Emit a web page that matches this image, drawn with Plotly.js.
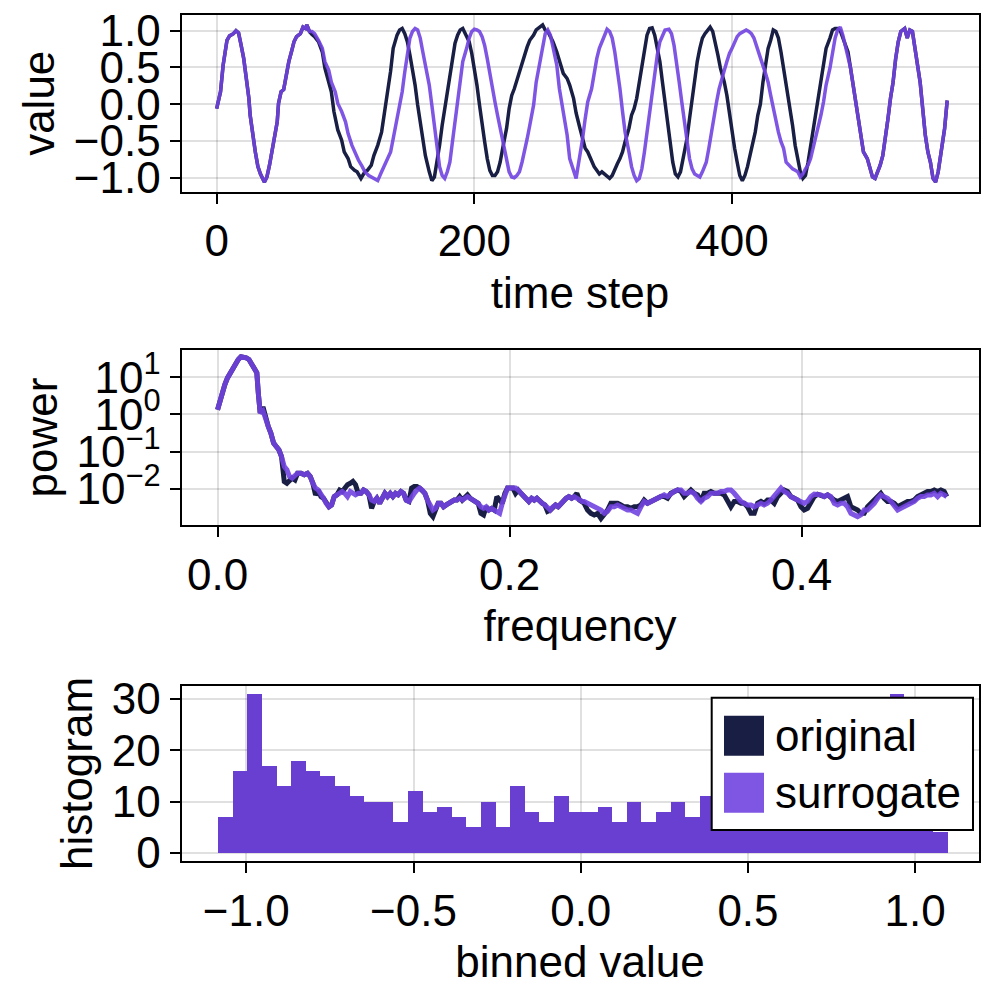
<!DOCTYPE html>
<html><head><meta charset="utf-8">
<script src="https://cdn.plot.ly/plotly-3.0.1.min.js"></script>
<style>html,body{margin:0;padding:0;background:#fff;} #chart{width:1000px;height:1000px;}</style>
</head><body><div id="chart"></div>
<script>
// ---------- time series (shared start / end segments, individual middles) ----------
const timeStart = [0,3,5,8,10,13,15,17,19,21,23,25,26,28,30,32,34,37,39,41,43,45,47,48,50,52,54,56,58,60,62,65,67,69,70,72];
const valueStart = [-0.06,0.17,0.53,0.87,0.93,0.96,1.0,0.97,0.8,0.62,0.35,0.08,-0.15,-0.42,-0.65,-0.85,-0.95,-1.06,-0.99,-0.83,-0.65,-0.47,-0.24,0.01,0.17,0.2,0.4,0.58,0.71,0.85,0.92,0.96,1.05,1.03,1.08,0.99];

const timeOrigMid = [74,76,79,82,84,86,89,91,94,97,99,102,104,107,109,112,115,117,120,122,125,128,130,133,135,137,140,142,144,146,148,150,152,154,156,158,160,162,165,167,169,171,173,175,177,179,181,183,185,187,189,191,193,196,198,200,202,204,206,208,210,212,214,216,218,220,222,225,227,229,231,233,235,237,239,241,243,246,248,251,253,255,257,259,261,264,266,269,272,274,277,279,282,284,286,288,291,293,295,297,299,301,303,305,307,309,311,313,315,317,320,322,324,326,328,330,332,334,336,338,340,342,344,346,348,350,352,354,356,358,360,362,365,367,369,371,373,375,377,379,381,383,385,387,389,391,394,396,398,400,402,404,406,408,410,412,414,416,418,420,422,424,426,428,430,432,434,436,438,440,442,445,447,449,451,453,455,457,459,461,463,465,467,469,471,473,476,478,480,482,484,486,488,490,492];
const valueOrigMid = [0.95,0.92,0.85,0.71,0.49,0.37,0.17,-0.1,-0.35,-0.49,
 -0.65,-0.74,-0.85,-0.9,-0.92,-1.01,-0.92,-0.9,-0.83,-0.7,
 -0.56,-0.38,-0.15,0.17,0.45,0.76,0.94,1.01,1.03,0.96,
 0.85,0.67,0.49,0.26,-0.01,-0.24,-0.47,-0.7,-0.92,-1.04,
 -0.99,-0.79,-0.56,-0.29,-0.06,0.17,0.4,0.62,0.83,0.94,
 1.01,1.03,0.96,0.85,0.69,0.49,0.26,-0.01,-0.29,-0.51,
 -0.74,-0.9,-0.97,-0.97,-0.92,-0.79,-0.6,-0.33,-0.06,0.12,
 0.21,0.33,0.46,0.58,0.69,0.78,0.87,0.94,1.01,1.05,
 1.08,1.01,0.99,0.92,0.85,0.71,0.58,0.42,0.35,0.26,
 0.08,-0.12,-0.33,-0.47,-0.6,-0.65,-0.79,-0.85,-0.9,-0.95,
 -0.92,-0.95,-0.97,-1.01,-0.97,-0.88,-0.81,-0.74,-0.65,-0.51,
 -0.33,-0.15,-0.06,0.08,0.3,0.53,0.76,0.94,1.03,1.04,
 0.94,0.78,0.58,0.3,0.03,-0.24,-0.51,-0.79,-0.95,-0.99,
 -0.92,-0.74,-0.47,-0.2,0.08,0.35,0.58,0.76,0.9,0.96,
 1.01,1.05,0.99,0.85,0.67,0.49,0.3,0.12,-0.15,-0.42,
 -0.6,-0.79,-0.97,-1.04,-0.97,-0.85,-0.7,-0.56,-0.38,-0.15,
 0.0,0.3,0.53,0.76,0.87,1.01,0.99,0.9,0.71,0.49,
 0.26,-0.01,-0.29,-0.56,-0.74,-0.92,-1.01,-0.97,-0.79,-0.56,
 -0.33,-0.1,0.12,0.35,0.58,0.76,0.9,1.01,1.03,1.03,
 1.0,0.9,0.8,0.71,0.49];

const timeSurrMid = [74,76,79,82,84,87,89,92,94,97,100,102,105,107,110,113,115,118,120,123,125,128,130,133,135,137,140,142,144,146,148,150,152,154,156,158,160,162,165,167,169,171,173,175,177,179,181,183,185,187,189,191,194,196,198,200,202,204,206,208,210,212,214,216,218,220,222,225,227,229,231,233,235,237,239,241,243,246,248,251,253,255,257,259,261,264,266,269,272,274,277,279,280,282,284,286,288,291,293,295,297,299,301,303,305,307,309,311,313,315,317,320,322,324,326,328,330,332,334,336,338,340,342,344,346,348,351,353,355,357,359,361,363,365,367,369,371,373,375,377,380,382,384,386,388,390,392,394,396,398,400,402,404,406,409,411,413,415,417,419,421,423,426,428,430,432,434,436,438,440,442,445,447,449,451,453,455,457,459,461,463,465,467,469,471,473,476,478,480,482,484,486,488,490,492];
const valueSurrMid = [0.99,0.96,0.87,0.76,0.58,0.46,0.3,0.17,0.01,-0.1,
 -0.24,-0.4,-0.56,-0.65,-0.76,-0.85,-0.92,-0.97,-0.99,-1.01,
 -1.04,-0.92,-0.85,-0.74,-0.65,-0.47,-0.2,-0.01,0.17,0.44,
 0.71,0.9,0.99,1.03,1.01,0.9,0.71,0.51,0.26,-0.01,
 -0.29,-0.6,-0.85,-0.97,-1.01,-0.92,-0.79,-0.51,-0.24,0.03,
 0.3,0.58,0.76,0.9,0.99,1.02,1.01,0.99,0.92,0.8,
 0.62,0.4,0.21,0.03,-0.15,-0.33,-0.51,-0.74,-0.92,-0.99,
 -1.0,-0.97,-0.92,-0.79,-0.6,-0.47,-0.29,-0.01,0.3,0.58,
 0.8,0.96,1.01,0.94,0.78,0.53,0.21,-0.1,-0.42,-0.74,
 -0.92,-1.01,-0.9,-0.7,-0.47,-0.2,0.03,0.21,0.44,0.62,
 0.76,0.85,0.96,1.02,0.99,0.9,0.71,0.49,0.21,-0.1,
 -0.38,-0.65,-0.85,-0.97,-1.04,-1.01,-0.88,-0.65,-0.38,-0.1,
 0.17,0.44,0.67,0.85,0.94,1.01,1.02,0.96,0.8,0.58,
 0.3,0.03,-0.24,-0.51,-0.74,-0.88,-0.95,-0.97,-0.99,-0.92,
 -0.79,-0.6,-0.38,-0.15,0.03,0.21,0.35,0.46,0.58,0.69,
 0.76,0.85,0.92,0.96,0.99,1.01,0.99,0.96,0.9,0.8,
 0.71,0.58,0.42,0.3,0.12,-0.06,-0.2,-0.38,-0.51,-0.6,
 -0.79,-0.85,-0.88,-0.9,-0.92,-0.99,-0.95,-0.88,-0.83,-0.74,
 -0.6,-0.47,-0.33,-0.15,0.03,0.26,0.49,0.71,0.9,1.01,
 1.05,0.94,0.8,0.67,0.49];

const timeEnd = [494,496,498,500,502,505,507,509,511,513,515,517,519,521,523,525,527,529,531,534,536,538,540,542,544,546,548,550,552,554,556,558,560,562,565,567];
const valueEnd = [0.26,0.03,-0.15,-0.42,-0.65,-0.74,-0.88,-0.99,-1.01,-0.92,-0.83,-0.7,-0.47,-0.2,0.08,0.3,0.62,0.85,0.99,1.03,0.9,1.01,0.99,0.76,0.58,0.3,-0.06,-0.42,-0.65,-0.79,-1.01,-1.06,-0.92,-0.7,-0.33,0.05];

// ---------- power spectra ----------
const frequency = [0,0.0018,0.0034,0.005,0.0068,0.0087,0.0105,0.0123,0.0142,0.016,
 0.0178,0.0196,0.0215,0.0233,0.0251,0.0269,0.0279,0.0292,0.0311,0.0329,
 0.0347,0.0365,0.0384,0.0402,0.042,0.0438,0.0457,0.0475,0.0493,0.0511,
 0.053,0.0548,0.0571,0.0594,0.0616,0.0635,0.0653,0.0671,0.069,0.0708,
 0.0726,0.0744,0.0763,0.0781,0.0799,0.0817,0.0836,0.0854,0.0872,0.089,
 0.0909,0.0927,0.0945,0.0963,0.0982,0.1,0.1018,0.1037,0.1055,0.1073,
 0.1091,0.111,0.1128,0.1146,0.1164,0.1183,0.1201,0.1219,0.1237,0.1256,
 0.1274,0.1292,0.1311,0.1329,0.1347,0.1365,0.1384,0.1402,0.142,0.1438,
 0.1457,0.1475,0.1493,0.1511,0.153,0.1548,0.1566,0.1584,0.1603,0.1621,
 0.1639,0.1658,0.1676,0.1694,0.1712,0.1731,0.1749,0.1767,0.1785,0.1804,
 0.1822,0.184,0.1858,0.1877,0.1895,0.1913,0.1932,0.195,0.1968,0.1986,
 0.2005,0.2023,0.2041,0.2059,0.2078,0.2096,0.2114,0.2132,0.2151,0.2169,
 0.2187,0.2205,0.2224,0.2242,0.226,0.2279,0.2297,0.2315,0.2333,0.2352,
 0.237,0.2388,0.2406,0.2425,0.2443,0.2461,0.2479,0.2498,
 0.2511,0.2534,0.2557,0.258,0.2603,0.2626,0.2649,0.2671,0.2694,0.2717,
 0.274,0.2763,0.2785,0.2808,0.2831,0.2854,0.2877,0.29,0.2922,0.2945,
 0.2968,0.2991,0.3014,0.3037,0.3059,0.3082,0.3105,0.3128,0.3151,0.3174,
 0.3196,0.3219,0.3242,0.3265,0.3288,0.3311,0.3333,0.3356,0.3379,0.3402,
 0.3425,0.3448,0.347,0.3493,0.3516,0.3539,0.3562,0.3585,0.3607,0.363,
 0.3653,0.3676,0.3699,0.3722,0.3744,0.3767,0.379,0.3813,0.3836,0.3859,
 0.3881,0.3904,0.3927,0.395,0.3973,0.3996,0.4018,0.4041,0.4064,0.4087,
 0.411,0.4132,0.4155,0.4178,0.4201,0.4224,0.4247,0.4269,0.4292,0.4315,
 0.4338,0.4361,0.4384,0.4406,0.4429,0.4452,0.4475,0.4498,0.4521,0.4543,
 0.4566,0.4589,0.4612,0.4635,0.4658,0.468,0.4703,0.4726,0.4749,0.4772,
 0.4795,0.4817,0.484,0.4863,0.4886,0.4909,0.4932,0.4954,0.4977,0.4995];

const powerOriginal = [1.34,2.5,4.64,6.31,9.55,13.1,17.8,24.3,29.9,35.3,
 35.3,33.1,29.9,21.9,16.1,13.1,3.78,1.09,1.58,0.724,
 0.479,0.316,0.17,0.138,0.112,0.0741,0.0158,0.0141,0.0174,0.0195,
 0.0174,0.0263,0.0263,0.024,0.0263,0.0214,0.0141,0.0069,0.0093,0.0062,
 0.0056,0.0041,0.0033,0.0037,0.0062,0.0069,0.0093,0.0085,0.0105,0.0129,
 0.0141,0.0158,0.0129,0.0076,0.0076,0.0093,0.0085,0.0069,0.003,0.0046,
 0.0056,0.0041,0.0056,0.0076,0.0062,0.0076,0.0062,0.0076,0.0069,0.0085,
 0.0076,0.005,0.0046,0.0105,0.0115,0.0115,0.0105,0.0093,0.0076,0.005,
 0.0022,0.0018,0.003,0.0041,0.0041,0.0033,0.0037,0.0041,0.0046,0.005,
 0.005,0.0062,0.005,0.0062,0.0069,0.0056,0.005,0.0046,0.0041,0.0022,
 0.002,0.0033,0.0027,0.003,0.0027,0.0062,0.005,0.0041,0.0076,0.0105,
 0.0105,0.0105,0.0076,0.0093,0.0076,0.0062,0.005,0.0046,0.0056,0.005,
 0.0056,0.0046,0.0041,0.0037,0.0025,0.0027,0.0033,0.0037,0.0033,0.0041,
 0.0046,0.0056,0.0062,0.0056,0.0062,0.0076,0.005,0.0046,
 0.0041,0.0027,0.0022,0.002,0.0022,0.0016,0.002,0.0027,0.0041,0.0041,
 0.0041,0.0037,0.0033,0.0033,0.003,0.0033,0.0033,0.0037,0.005,0.0041,
 0.0046,0.005,0.0056,0.0062,0.0062,0.0056,0.0076,0.0085,0.0093,0.0085,
 0.0062,0.0076,0.0093,0.0076,0.0069,0.0046,0.0076,0.0076,0.0085,0.0076,
 0.0076,0.0076,0.0069,0.005,0.0033,0.0046,0.0046,0.0041,0.0041,0.0033,
 0.0022,0.0022,0.0041,0.0046,0.0041,0.005,0.005,0.0041,0.0062,0.0076,
 0.0093,0.0085,0.0062,0.0056,0.005,0.0033,0.0027,0.003,0.0046,0.0062,
 0.0072,0.0069,0.0062,0.0069,0.0056,0.005,0.0046,0.005,0.0056,0.0062,
 0.0033,0.003,0.0027,0.0022,0.0022,0.0033,0.0041,0.0046,0.0062,0.0076,
 0.0056,0.0046,0.0046,0.0041,0.0033,0.0037,0.0041,0.0046,0.0046,0.005,
 0.0062,0.0069,0.0076,0.0085,0.0085,0.0093,0.0085,0.0093,0.0085,0.0062];

const powerSurrogate = [1.34,2.5,4.64,6.31,9.55,13.1,17.8,24.3,29.9,35.3,
 35.3,33.1,29.9,21.9,16.1,13.1,3.78,1.09,1.26,0.724,
 0.479,0.316,0.17,0.138,0.112,0.0741,0.0398,0.0324,0.0214,0.0195,
 0.024,0.0263,0.0263,0.024,0.0263,0.0214,0.0141,0.0105,0.0093,0.0076,
 0.0056,0.0041,0.0033,0.0037,0.0062,0.0069,0.0076,0.0085,0.0076,0.0062,
 0.0085,0.0076,0.0069,0.0076,0.0076,0.0093,0.0085,0.0069,0.005,0.0046,
 0.0056,0.0041,0.0056,0.0076,0.0062,0.0076,0.0062,0.0076,0.0069,0.0085,
 0.0076,0.005,0.0046,0.0062,0.0076,0.0093,0.0105,0.0093,0.0076,0.005,
 0.0033,0.0027,0.003,0.0041,0.0041,0.0033,0.0037,0.0041,0.0046,0.005,
 0.005,0.0056,0.005,0.0056,0.0062,0.0056,0.005,0.0046,0.0041,0.0033,
 0.003,0.0033,0.0027,0.003,0.0027,0.0025,0.0022,0.0041,0.0076,0.0105,
 0.0105,0.0105,0.0105,0.0093,0.0076,0.0062,0.005,0.0046,0.0056,0.005,
 0.0056,0.0046,0.0041,0.0037,0.003,0.0027,0.0033,0.0037,0.0033,0.0041,
 0.0046,0.0056,0.0062,0.0056,0.0062,0.0056,0.005,0.0046,
 0.0046,0.0041,0.0037,0.0033,0.003,0.0027,0.0022,0.0025,0.0033,0.0033,
 0.0037,0.0033,0.003,0.0027,0.0027,0.0025,0.0022,0.0033,0.0046,0.0041,
 0.0046,0.005,0.0056,0.0062,0.0069,0.0062,0.0076,0.0085,0.0093,0.0093,
 0.0076,0.0076,0.0085,0.0076,0.0056,0.0046,0.0056,0.0062,0.0076,0.0076,
 0.0076,0.0085,0.0085,0.0093,0.0093,0.0076,0.0056,0.0046,0.0041,0.0037,
 0.0037,0.0033,0.0037,0.0041,0.0037,0.0041,0.005,0.0062,0.0085,0.0105,
 0.0085,0.0076,0.0062,0.0056,0.005,0.0046,0.0041,0.0046,0.0062,0.0072,
 0.0072,0.0069,0.0062,0.0069,0.0062,0.0041,0.0037,0.0041,0.0041,0.0033,
 0.0022,0.002,0.0018,0.002,0.0027,0.0027,0.0033,0.0041,0.0056,0.0069,
 0.0062,0.0056,0.0046,0.0037,0.0027,0.003,0.0033,0.0037,0.0041,0.0046,
 0.0056,0.0062,0.0062,0.0069,0.0069,0.0076,0.0062,0.0076,0.0069,0.0062];

// ---------- histogram ----------
const binStart = -1.0837;
const binWidth = 0.04363;
const countsOriginal = [7,16,31,17,13,18,16,15,13,11, 10,10,6,12,8,9,7,5,10,5, 13,8,6,11,8,8,9,6,10,6, 8,10,7,11,9,10,8,11,10,12, 11,13,12,14,15,17,31,16,14,4];
const countsSurrogate = [7,16,31,17,13,18,16,15,13,11, 10,10,6,12,8,9,7,5,10,5, 13,8,6,11,8,8,9,6,10,6, 8,10,7,11,9,10,8,11,10,12, 11,13,12,14,15,17,31,16,14,4];

const seriesNames = ['original', 'surrogate'];
const timeTicks = [0, 200, 400];
const valueTicks = [-1, -0.5, 0, 0.5, 1];
const freqTicks = [0, 0.2, 0.4];
const powerTicks = [10, 1, 0.1, 0.01];
const powerTickText = ['10<sup>1</sup>', '10<sup>0</sup>', '10<sup>\u22121</sup>', '10<sup>\u22122</sup>'];
const binnedTicks = [-1, -0.5, 0, 0.5, 1];
const countTicks = [0, 10, 20, 30];

// ---------- build ----------
const NAVY = '#191E44';
const PURPLE = 'rgba(113,67,224,0.9)';
const FONT = '"Liberation Sans", Arial, Helvetica, sans-serif';

const timeOriginal = timeStart.concat(timeOrigMid, timeEnd);
const valueOriginal = valueStart.concat(valueOrigMid, valueEnd);
const timeSurrogate = timeStart.concat(timeSurrMid, timeEnd);
const valueSurrogate = valueStart.concat(valueSurrMid, valueEnd);
const binCenters = countsOriginal.map((_, i) => binStart + binWidth * (i + 0.5));

const traces = [
  {x: timeOriginal, y: valueOriginal, type: 'scatter', mode: 'lines', name: seriesNames[0], line: {color: NAVY, width: 3.5}, xaxis: 'x', yaxis: 'y', showlegend: false},
  {x: timeSurrogate, y: valueSurrogate, type: 'scatter', mode: 'lines', name: seriesNames[1], line: {color: PURPLE, width: 3.5}, xaxis: 'x', yaxis: 'y', showlegend: false},
  {x: frequency, y: powerOriginal, type: 'scatter', mode: 'lines', name: seriesNames[0], line: {color: NAVY, width: 5}, xaxis: 'x2', yaxis: 'y2', showlegend: false},
  {x: frequency, y: powerSurrogate, type: 'scatter', mode: 'lines', name: seriesNames[1], line: {color: PURPLE, width: 5}, xaxis: 'x2', yaxis: 'y2', showlegend: false},
  {x: binCenters, y: countsOriginal, type: 'bar', width: binWidth, name: seriesNames[0], marker: {color: NAVY, line: {width: 0}}, xaxis: 'x3', yaxis: 'y3', showlegend: false},
  {x: binCenters, y: countsSurrogate, type: 'bar', width: binWidth, name: seriesNames[1], marker: {color: PURPLE, line: {width: 0}}, xaxis: 'x3', yaxis: 'y3', showlegend: false}
];

function ax(extra) {
  return Object.assign({
    showline: true, mirror: true, linecolor: '#000', linewidth: 2,
    ticks: 'outside', ticklen: 10, tickwidth: 2, tickcolor: '#000',
    showgrid: true, gridcolor: 'rgba(0,0,0,0.12)', gridwidth: 2,
    zeroline: false, automargin: false, fixedrange: true,
    tickfont: {family: FONT, size: 44, color: '#000'}
  }, extra);
}
function ttl(text, standoff) {
  return {text: text, standoff: standoff, font: {family: FONT, size: 44, color: '#000'}};
}

const X0 = 0.1815, X1 = 0.9785;
const layout = {
  width: 1000, height: 1000,
  margin: {l: 0, r: 0, t: 0, b: 0},
  paper_bgcolor: '#fff', plot_bgcolor: '#fff',
  showlegend: false,
  barmode: 'overlay', bargap: 0,
  font: {family: FONT, size: 44, color: '#000'},
  xaxis: ax({domain: [X0, X1], anchor: 'y', range: [-27.3, 591.3], tickvals: timeTicks, title: ttl('time step', 13)}),
  yaxis: ax({domain: [0.8085, 0.985], anchor: 'x', range: [-1.188, 1.214], tickvals: valueTicks, tickformat: '.1f', title: ttl('value', 5)}),
  xaxis2: ax({domain: [X0, X1], anchor: 'y2', range: [-0.0247, 0.5212], tickvals: freqTicks, tickformat: '.1f', title: ttl('frequency', 12)}),
  yaxis2: ax({domain: [0.475, 0.65], anchor: 'x2', type: 'log', range: [-2.97, 1.73], tickvals: powerTicks, ticktext: powerTickText, title: ttl('power', 5)}),
  xaxis3: ax({domain: [X0, X1], anchor: 'y3', range: [-1.1937, 1.1893], tickvals: binnedTicks, tickformat: '.1f', title: ttl('binned value', 12)}),
  yaxis3: ax({domain: [0.139, 0.314], anchor: 'x3', range: [-1.6, 32.55], tickvals: countTicks, title: ttl('histogram', 5)}),
  shapes: [
    {type: 'rect', xref: 'paper', yref: 'paper', x0: 0.7117, x1: 0.973, y0: 0.170, y1: 0.3023, fillcolor: '#fff', line: {color: '#000', width: 2}, layer: 'above'},
    {type: 'rect', xref: 'paper', yref: 'paper', x0: 0.724, x1: 0.764, y0: 0.2443, y1: 0.2843, fillcolor: NAVY, line: {width: 0}, layer: 'above'},
    {type: 'rect', xref: 'paper', yref: 'paper', x0: 0.724, x1: 0.764, y0: 0.1873, y1: 0.2273, fillcolor: PURPLE, line: {width: 0}, layer: 'above'}
  ],
  annotations: [
    {xref: 'paper', yref: 'paper', x: 0.773, y: 0.2643, xanchor: 'left', yanchor: 'middle', text: seriesNames[0], showarrow: false, font: {family: FONT, size: 44, color: '#000'}},
    {xref: 'paper', yref: 'paper', x: 0.773, y: 0.2073, xanchor: 'left', yanchor: 'middle', text: seriesNames[1], showarrow: false, font: {family: FONT, size: 44, color: '#000'}}
  ]
};

Plotly.newPlot('chart', traces, layout, {displayModeBar: false, staticPlot: true});
</script>
</body></html>
